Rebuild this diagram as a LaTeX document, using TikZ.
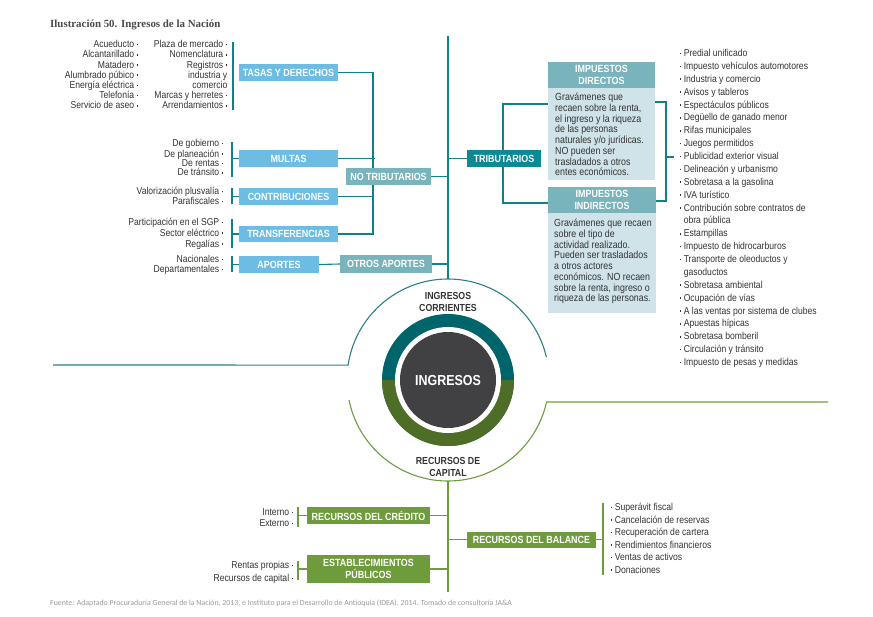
\documentclass[tikz,border=0pt]{standalone}
\usepackage{fontspec}
\usepackage{graphicx}
\newfontfamily\cond{Liberation Sans}[FakeStretch=0.86]
\newfontfamily\titlef{Liberation Serif}
\newfontfamily\footf{Carlito}
\definecolor{lblue}{HTML}{6CBCE3}
\definecolor{tgray}{HTML}{79B3BC}
\definecolor{tealbox}{HTML}{0B8A93}
\definecolor{tealline}{HTML}{12808A}
\definecolor{descbg}{HTML}{D0E3E9}
\definecolor{ringteal}{HTML}{00646B}
\definecolor{ringgreen}{HTML}{4E6E27}
\definecolor{darkc}{HTML}{414143}
\definecolor{gbox}{HTML}{6E9C3C}
\definecolor{txt}{HTML}{333333}
\definecolor{titlec}{HTML}{4A4A4A}
\definecolor{footc}{HTML}{9A9A9A}
\newcommand\bulL{\hspace{2.5pt}\rule[2.3pt]{1.6pt}{1.6pt}}
\newcommand\nobulL{\hspace{2.5pt}\hspace{1.6pt}}
\newcommand\bulR{\rule[2.3pt]{1.6pt}{1.6pt}\hspace{2.5pt}}
\newcommand\nobulR{\hspace{4.1pt}}
\begin{document}
\begin{tikzpicture}[x=1pt,y=-1pt,
  box/.style={inner sep=0, text=white, font=\cond\bfseries\fontsize{10.4}{11.5}\selectfont, align=center},
  bluebox/.style={box, fill=lblue},
  graybox/.style={box, fill=tgray},
  tealb/.style={box, fill=tealbox},
  greenbox/.style={box, fill=gbox},
  descbox/.style={fill=descbg, inner sep=0, anchor=north west},
  desctext/.style={font=\cond\fontsize{10.3}{10.75}\selectfont, text=txt, inner sep=0, align=left, anchor=base west},
  llist/.style={font=\cond\fontsize{10}{10.2}\selectfont, text=txt, inner sep=0, align=right, anchor=base east},
  rlist/.style={font=\cond\fontsize{10}{12.875}\selectfont, text=txt, inner sep=0, align=left, anchor=base west},
  tline/.style={draw=tealline, line width=1.1pt},
  gline/.style={draw=gbox, line width=1.1pt},
  lbl/.style={font=\cond\bfseries\fontsize{10.2}{11.8}\selectfont, text=txt, inner sep=0, align=center, anchor=base}
]
\useasboundingbox (0,0) rectangle (873,616);

% title and footer
\node[font=\titlef\bfseries\fontsize{10.9}{12}\selectfont, text=titlec, anchor=base west, inner sep=0] (title) at (50,27.5) {Ilustración 50. Ingresos de la Nación};
\node[font=\footf\fontsize{7.85}{9}\selectfont, text=footc, anchor=base west, inner sep=0] (foot) at (50,605.5) {Fuente: Adaptado Procuraduría General de la Nación, 2013, e Instituto para el Desarrollo de Antioquia (IDEA), 2014. Tomado de consultoría JA\&A};

% left lists (anchor = baseline of last line)
\node[llist] (l1) at (138.5,108.8) {Acueducto\bulL\\Alcantarillado\bulL\\Matadero\bulL\\Alumbrado púbico\bulL\\Energía eléctrica\bulL\\Telefonía\bulL\\Servicio de aseo\bulL};
\node[llist] (l2) at (227.5,108.8) {Plaza de mercado\bulL\\Nomenclatura\bulL\\Registros\bulL\\industria y\nobulL\\comercio\nobulL\\Marcas y herretes\bulL\\Arrendamientos\bulL};
\node[llist, font=\cond\fontsize{10}{9.4}\selectfont] (l3) at (223.5,175.8) {De gobierno\bulL\\De planeación\bulL\\De rentas\bulL\\De tránsito\bulL};
\node[llist, font=\cond\fontsize{10}{10}\selectfont] (l4) at (223.5,204.6) {Valorización plusvalía\bulL\\Parafiscales\bulL};
\node[llist, font=\cond\fontsize{10}{10.7}\selectfont] (l5) at (223.5,247.0) {Participación en el SGP\bulL\\Sector eléctrico\bulL\\Regalías\bulL};
\node[llist, font=\cond\fontsize{10}{10}\selectfont] (l6) at (223.5,272.6) {Nacionales\bulL\\Departamentales\bulL};
\node[llist, font=\cond\fontsize{10}{11}\selectfont] (l7) at (293.5,526.6) {Interno\bulL\\Externo\bulL};
\node[llist, font=\cond\fontsize{10}{13}\selectfont] (l8) at (293.5,581.6) {Rentas propias\bulL\\Recursos de capital\bulL};

% right lists
\node[rlist] (r1) at (679.5,365.6) {\bulR Predial unificado\\\bulR Impuesto vehículos automotores\\\bulR Industria y comercio\\\bulR Avisos y tableros\\\bulR Espectáculos públicos\\\bulR Degüello de ganado menor\\\bulR Rifas municipales\\\bulR Juegos permitidos\\\bulR Publicidad exterior visual\\\bulR Delineación y urbanismo\\\bulR Sobretasa a la gasolina\\\bulR IVA turístico\\\bulR Contribución sobre contratos de\\\nobulR obra pública\\\bulR Estampillas\\\bulR Impuesto de hidrocarburos\\\bulR Transporte de oleoductos y\\\nobulR gasoductos\\\bulR Sobretasa ambiental\\\bulR Ocupación de vías\\\bulR A las ventas por sistema de clubes\\\bulR Apuestas hípicas\\\bulR Sobretasa bomberil\\\bulR Circulación y tránsito\\\bulR Impuesto de pesas y medidas};
\node[rlist, font=\cond\fontsize{10}{12.5}\selectfont] (r2) at (610.5,573.1) {\bulR Superávit fiscal\\\bulR Cancelación de reservas\\\bulR Recuperación de cartera\\\bulR Rendimientos financieros\\\bulR Ventas de activos\\\bulR Donaciones};

% left category boxes
\node[bluebox, minimum width=99, minimum height=17] (tasas) at (288.5,72.5) {TASAS Y DERECHOS};
\node[bluebox, minimum width=99, minimum height=17] (multas) at (288.5,158.5) {MULTAS};
\node[bluebox, minimum width=99, minimum height=17] (contrib) at (288.5,196.5) {CONTRIBUCIONES};
\node[bluebox, minimum width=99, minimum height=16] (transf) at (288.5,234) {TRANSFERENCIAS};
\node[bluebox, minimum width=80, minimum height=17] (aport) at (279,264.5) {APORTES};

% brackets of left lists
\coordinate (b1a) at (233,42);  \coordinate (b1b) at (233,110);
\draw[tline] (b1a) -- (b1b);
\coordinate (b2a) at (232,142); \coordinate (b2b) at (232,177);
\draw[tline] (b2a) -- (b2b); \draw[tline] (b2a |- multas.west) -- (multas.west);
\coordinate (b3a) at (232,188); \coordinate (b3b) at (232,204);
\draw[tline] (b3a) -- (b3b); \draw[tline] (b3a |- contrib.west) -- (contrib.west);
\coordinate (b4a) at (232,219); \coordinate (b4b) at (232,248);
\draw[tline] (b4a) -- (b4b); \draw[tline] (b4a |- transf.west) -- (transf.west);
\coordinate (b5a) at (232,256); \coordinate (b5b) at (232,272);
\draw[tline] (b5a) -- (b5b); \draw[tline] (b5a |- aport.west) -- (aport.west);

% no tributarios tree
\coordinate (ntx) at (373,0);
\draw[tline] (tasas.east) -| (ntx |- transf.east) -- (transf.east);
\draw[tline] (multas.east) -- ([xshift=2]ntx |- multas.east);
\draw[tline] (contrib.east) -- (ntx |- contrib.east);
\node[graybox, minimum width=85, minimum height=17] (nt) at (388.5,176.5) {NO TRIBUTARIOS};
\node[graybox, minimum width=92, minimum height=18] (oa) at (386,264) {OTROS APORTES};
\draw[tline] (aport.east) -- (oa.west);

% circle
\coordinate (c) at (448,380);
\coordinate (top) at (448,36);
\coordinate (arctop) at (448,279);
\draw[tline] (top) -- (arctop);
\draw[tline] (nt.east) -- (top |- nt.east);
\draw[tline] (oa.east) -- (top |- oa.east);

\fill[ringteal] (c) circle (66);
\fill[ringgreen] ([xshift=66]c) arc[start angle=0, end angle=180, radius=66] -- cycle;
\fill[white] (c) circle (53);
\fill[darkc] (c) circle (48);
\node[box, font=\cond\bfseries\fontsize{14.5}{16}\selectfont, anchor=base] (ing) at (448,385.2) {INGRESOS};

\coordinate (tl) at (53,365);
\draw[draw=tealline!75!gray, line width=1.1pt] (tl) -- ([shift={(-171.5:101)}]c) arc[start angle=-171.5, end angle=-13, radius=101];
\coordinate (gr) at (828,402);
\draw[gline] ([shift={(168.6:101)}]c) arc[start angle=168.6, end angle=12.6, radius=101] -- (gr);

\node[lbl] (icorr) at (448,311.4) {INGRESOS\\CORRIENTES};
\node[lbl] (rcap) at (448,476.4) {RECURSOS DE\\CAPITAL};

% tributarios
\coordinate (tx) at (503,0);
\coordinate (dj) at (548,104);
\coordinate (ij) at (548,203);
\draw[tline] (dj) -| (tx |- ij) -- (ij);
\node[tealb, minimum width=74, minimum height=17] (trib) at (504,158.5) {TRIBUTARIOS};
\draw[tline] (top |- trib.west) -- (trib.west);

\node[graybox, minimum width=107, minimum height=26] (dh) at (601.5,75) {IMPUESTOS\\DIRECTOS};
\node[descbox, minimum width=107, minimum height=92] (dd) at (548,88) {};
\node[desctext] (ddt) at (555,175.85) {Gravámenes que\\recaen sobre la renta,\\el ingreso y la riqueza\\de las personas\\naturales y/o jurídicas.\\NO pueden ser\\trasladados a otros\\entes económicos.};
\node[graybox, minimum width=108, minimum height=26] (ih) at (602,200) {IMPUESTOS\\INDIRECTOS};
\node[descbox, minimum width=108, minimum height=100] (id) at (548,213) {};
\node[desctext] (idt) at (554,301.85) {Gravámenes que recaen\\sobre el tipo de\\actividad realizado.\\Pueden ser trasladados\\a otros actores\\económicos. NO recaen\\sobre la renta, ingreso o\\riqueza de las personas.};

\coordinate (dr) at (655,102);
\coordinate (ir) at (656,201);
\coordinate (rx) at (666,0);
\coordinate (tick) at (674,157);
\draw[tline] (dr) -| (rx |- ir) -- (ir);
\draw[tline] (rx |- tick) -- (tick);

% recursos de capital
\coordinate (bot) at (448,481);
\coordinate (botend) at (448,592);
\draw[gline] (bot) -- (botend);
\node[greenbox, minimum width=123, minimum height=17] (cred) at (368.5,515.5) {RECURSOS DEL CRÉDITO};
\node[greenbox, minimum width=123, minimum height=28, font=\cond\bfseries\fontsize{10.4}{12}\selectfont] (est) at (368.5,569) {ESTABLECIMIENTOS\\PÚBLICOS};
\node[greenbox, minimum width=129, minimum height=16] (bal) at (531.5,539.5) {RECURSOS DEL BALANCE};
\draw[gline] (cred.east) -- (bot |- cred.east);
\draw[gline] (est.east) -- (bot |- est.east);
\draw[gline] (bot |- bal.west) -- (bal.west);

\coordinate (g1a) at (298,507); \coordinate (g1b) at (298,527);
\draw[gline] (g1a) -- (g1b); \draw[gline] (g1a |- cred.west) -- (cred.west);
\coordinate (g2a) at (298,561); \coordinate (g2b) at (298,580);
\draw[gline] (g2a) -- (g2b); \draw[gline] (g2a |- est.west) -- (est.west);
\coordinate (g3a) at (603,503); \coordinate (g3b) at (603,575);
\draw[gline] (g3a) -- (g3b); \draw[gline] (bal.east) -- (g3a |- bal.east);
\end{tikzpicture}
\end{document}
